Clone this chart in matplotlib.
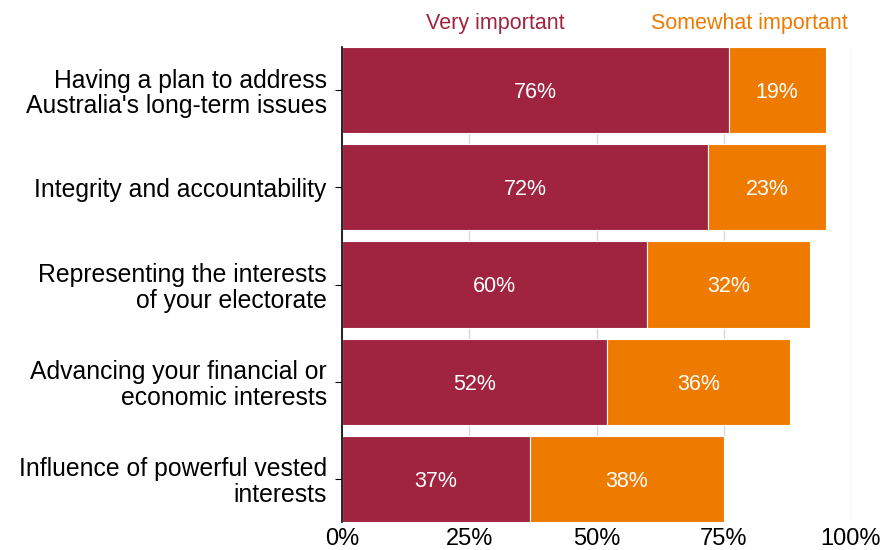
import matplotlib.pyplot as plt
import numpy as np

plt.rcParams['font.family'] = ['Liberation Sans', 'DejaVu Sans']

categories = [
    "Having a plan to address\nAustralia's long-term issues",
    "Integrity and accountability",
    "Representing the interests\nof your electorate",
    "Advancing your financial or\neconomic interests",
    "Influence of powerful vested\ninterests",
]
very_important = [76, 72, 60, 52, 37]
somewhat_important = [19, 23, 32, 36, 38]
x_ticks = [0, 25, 50, 75, 100]

red = '#A0243F'
orange = '#EF7A00'

fig = plt.figure(figsize=(8.85, 5.5), dpi=100)
ax = fig.add_axes([342 / 885, 28 / 550, 509 / 885, 475 / 550])

y = np.arange(len(categories))
h = 0.885
ax.barh(y, very_important, height=h, color=red, edgecolor='white', linewidth=0.8, zorder=2)
ax.barh(y, somewhat_important, left=very_important, height=h, color=orange,
        edgecolor='white', linewidth=0.8, zorder=2)

for i, (a, b) in enumerate(zip(very_important, somewhat_important)):
    ax.text(a / 2, i, f'{a}%', ha='center', va='center_baseline', color='white',
            fontsize=15.5, zorder=3)
    ax.text(a + b / 2, i, f'{b}%', ha='center', va='center_baseline', color='white',
            fontsize=15.5, zorder=3)

ax.set_ylim(len(categories) - 1 + h / 2, -h / 2)
ax.set_xlim(0, 100)
ax.set_yticks(y)
ax.set_yticklabels(categories, fontsize=17.8, linespacing=1.08)
ax.set_xticks(x_ticks)
ax.set_xticklabels([f'{t}%' for t in x_ticks], fontsize=17)
ax.tick_params(axis='x', length=0, pad=4)
ax.tick_params(axis='y', length=5, width=0.8, pad=6)

ax.grid(axis='x', color='#d9d9d9', linewidth=1, zorder=0)
for s in ['top', 'right', 'bottom']:
    ax.spines[s].set_visible(False)
ax.spines['left'].set_linewidth(1.2)
ax.spines['left'].set_zorder(4)

fig.text(495 / 885, 1 - 24 / 550, 'Very important', color=red, fontsize=15.5,
         ha='center', va='center')
fig.text(749 / 885, 1 - 24 / 550, 'Somewhat important', color=orange, fontsize=15.5,
         ha='center', va='center')

fig.savefig('out.png', dpi=100)
